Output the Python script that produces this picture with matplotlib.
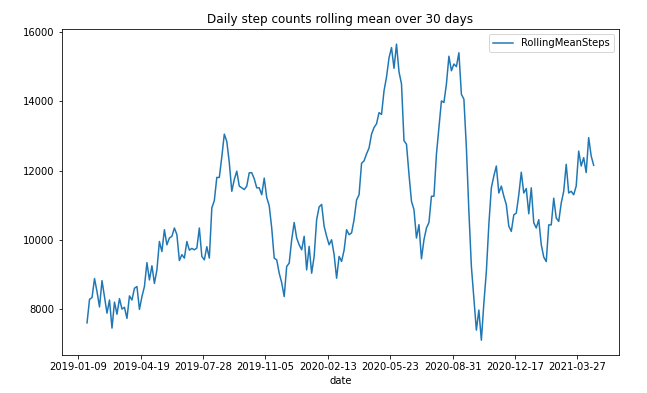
import matplotlib
matplotlib.use("Agg")
import matplotlib.pyplot as plt
import numpy as np

title = "Daily step counts rolling mean over 30 days"
series_name = "RollingMeanSteps"
x_label = "date"
tick_labels = ["2019-01-09", "2019-04-19", "2019-07-28", "2019-11-05", "2020-02-13",
               "2020-05-23", "2020-08-31", "2020-12-17", "2021-03-27"]
tick_step = 100          # rows between labelled dates
first_row = 14           # first row with a 30-day rolling mean
row_step = 4             # rows between the sampled values below

rolling_mean_steps = [
    7600, 8280, 8330, 8880, 8500, 8060, 8820, 8360, 7880, 8260,
    7450, 8200, 7850, 8300, 8000, 8050, 7730, 8380, 8260, 8600,
    8650, 7990, 8360, 8650, 9340, 8840, 9250, 8740, 9130, 9950,
    9660, 10290, 9855, 10050, 10100, 10340, 10150, 9400, 9570, 9470,
    9950, 9700, 9750, 9710, 9760, 10340, 9520, 9420, 9800, 9470,
    10920, 11130, 11800, 11800, 12390, 13050, 12840, 12230, 11400, 11740,
    11980, 11550, 11500, 11450, 11550, 11935, 11935, 11760, 11500, 11500,
    11300, 11780, 11220, 10980, 10340, 9470, 9420, 9035, 8760, 8360,
    9230, 9325, 10000, 10500, 10050, 9855, 9710, 10100, 9130, 9810,
    9035, 9520, 10580, 10950, 11020, 10390, 10100, 9855, 10000, 9570,
    8890, 9520, 9375, 9700, 10290, 10146, 10200, 10580, 11150, 11300,
    12210, 12280, 12480, 12650, 13050, 13240, 13350, 13670, 13620, 14300,
    14700, 15250, 15550, 14950, 15650, 14850, 14500, 12860, 12760, 11890,
    11110, 10870, 10050, 10436, 9450, 10000, 10340, 10500, 11257, 11257,
    12470, 13240, 14010, 13964, 14500, 15300, 14880, 15075, 15000, 15400,
    14200, 14060, 12660, 10820, 9230, 8310, 7390, 7970, 7100, 8165,
    9080, 10440, 11500, 11840, 12130, 11350, 11550, 11257, 11015, 10390,
    10243, 10720, 10770, 11300, 11950, 11350, 11480, 10750, 11500, 10490,
    10340, 10580, 9860, 9500, 9370, 10430, 10430, 11200, 10630, 10530,
    11060, 11400, 12180, 11350, 11400, 11300, 11550, 12560, 12130, 12370,
    11940, 12950, 12420, 12150,
]

rows = np.arange(len(rolling_mean_steps)) * row_step + first_row

fig = plt.figure(figsize=(647 / 72, 393 / 72), dpi=72)
ax = fig.add_axes([61.7 / 647, 1 - 355 / 393, (619 - 61.7) / 647, (355 - 29.3) / 393])
ax.plot(rows, rolling_mean_steps, color="#1f77b4", lw=1.5, label=series_name)
ax.set_xticks(np.arange(len(tick_labels)) * tick_step)
ax.set_xticklabels(tick_labels, fontsize=10)
ax.tick_params(axis="y", labelsize=10)
ax.set_xlabel(x_label, fontsize=10)
ax.set_title(title, fontsize=12)
ax.legend(loc="upper right", fontsize=10)
fig.savefig("out.png", dpi=72)
